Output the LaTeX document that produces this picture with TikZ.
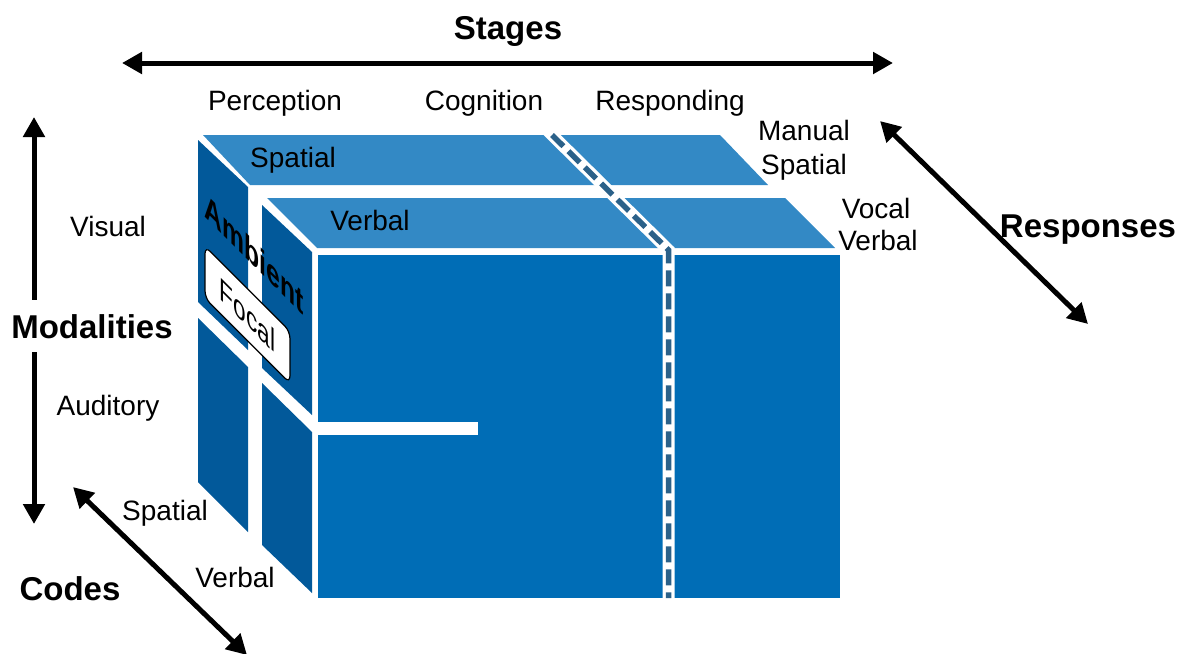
\documentclass[tikz,border=0pt]{standalone}
\usepackage{fontspec}
\setmainfont{Liberation Sans}
\usetikzlibrary{arrows.meta}

\definecolor{topblue}{HTML}{3389C5}
\definecolor{frontblue}{HTML}{006DB6}
\definecolor{sideblue}{HTML}{02599A}
\definecolor{dashblue}{HTML}{2B6189}

\begin{document}
\begin{tikzpicture}[x=1pt,y=-1pt,
  lbl/.style={font=\fontsize{28}{32}\selectfont, anchor=base, inner sep=0pt},
  blbl/.style={font=\fontsize{33}{38}\selectfont\bfseries, anchor=base, inner sep=0pt},
  arr/.style={line width=5pt,
    {Triangle[length=20pt,width=21pt]}-{Triangle[length=20pt,width=21pt]}},
  topface/.style={fill=topblue},
  sideface/.style={fill=sideblue},
  frontface/.style={fill=frontblue}]
\useasboundingbox (0,0) rectangle (1185,653);

% back layer (spatial code): top slab and left side
\fill[topface] (203,135) -- (720,135) -- (768,185) -- (250,185) -- cycle;
\fill[sideface] (198,140) -- (248,187) -- (248,350) -- (198,302) -- cycle;
\fill[sideface] (198,318) -- (248,367) -- (248,532) -- (198,482) -- cycle;

% front layer (verbal code): top slab, left side, front face
\fill[topface] (267,198) -- (785,198) -- (835,248) -- (317,248) -- cycle;
\fill[sideface] (262,205) -- (312,252) -- (312,415) -- (262,368) -- cycle;
\fill[sideface] (262,383) -- (312,432) -- (312,593) -- (262,545) -- cycle;
\fill[frontface] (318,255) rectangle (840,598);

% gap between visual and auditory on the front face
\fill[white] (318,422) rectangle (478,435);

% responding boundary: white band with dashed core
\draw[white, line width=12pt, line join=miter] (547,130) -- (668.5,250) -- (668.5,600);
\draw[dashblue, line width=5.5pt, dash pattern=on 16pt off 7pt]
  (552,135) -- (668.5,250) -- (668.5,598);

% ambient / focal labels on the side faces
\begin{scope}[shift={(254,266)}, cm={0.707,-0.707,0,1,(0,0)}]
  \node[transform shape, font=\fontsize{35}{40}\selectfont\bfseries,
        anchor=base, inner sep=0pt] (amb) at (0,0) {Ambient};
\end{scope}
\begin{scope}[shift={(247.5,314.75)}, cm={0.707,-0.707,0,1,(0,0)}]
  \node[transform shape, draw=black, line width=1.2pt, fill=white,
        rounded corners=7pt, minimum width=120pt, minimum height=52pt,
        inner sep=0pt, font=\fontsize{32}{36}\selectfont] (focal) at (0,0) {Focal};
\end{scope}

% face labels
\node[lbl] (tspa) at (293,167) {Spatial};
\node[lbl] (tverb) at (370,230) {Verbal};

% axis arrows
\coordinate (stL) at (122,63);
\coordinate (stR) at (893,63);
\coordinate (moT) at (34,117);
\coordinate (moB) at (34,524);
\coordinate (reT) at (880,121);
\coordinate (reB) at (1088,324);
\coordinate (coT) at (73,487);
\coordinate (coB) at (247,655);
\draw[arr] (stL) -- (stR);
\draw[arr] (moT) -- (moB);
\draw[arr] (reT) -- (reB);
\draw[arr] (coT) -- (coB);

% axis titles
\node[blbl] (stages) at (508,39) {Stages};
\node[blbl, fill=white, inner xsep=2pt, inner ysep=14pt] (modal) at (92,338) {Modalities};
\node[blbl] (codes) at (70,600) {Codes};
\node[blbl] (respn) at (1088,237) {Responses};

% category labels
\node[lbl] (perc) at (275,110) {Perception};
\node[lbl] (cogn) at (484,110) {Cognition};
\node[lbl] (resp) at (670,110) {Responding};
\node[lbl] (man) at (804,140) {Manual};
\node[lbl] (mansp) at (804,174) {Spatial};
\node[lbl] (voc) at (876,218) {Vocal};
\node[lbl] (vocvb) at (878,250) {Verbal};
\node[lbl] (vis) at (108,236) {Visual};
\node[lbl] (aud) at (108,415) {Auditory};
\node[lbl] (cspa) at (165,520) {Spatial};
\node[lbl] (cverb) at (235,587) {Verbal};
\end{tikzpicture}
\end{document}
